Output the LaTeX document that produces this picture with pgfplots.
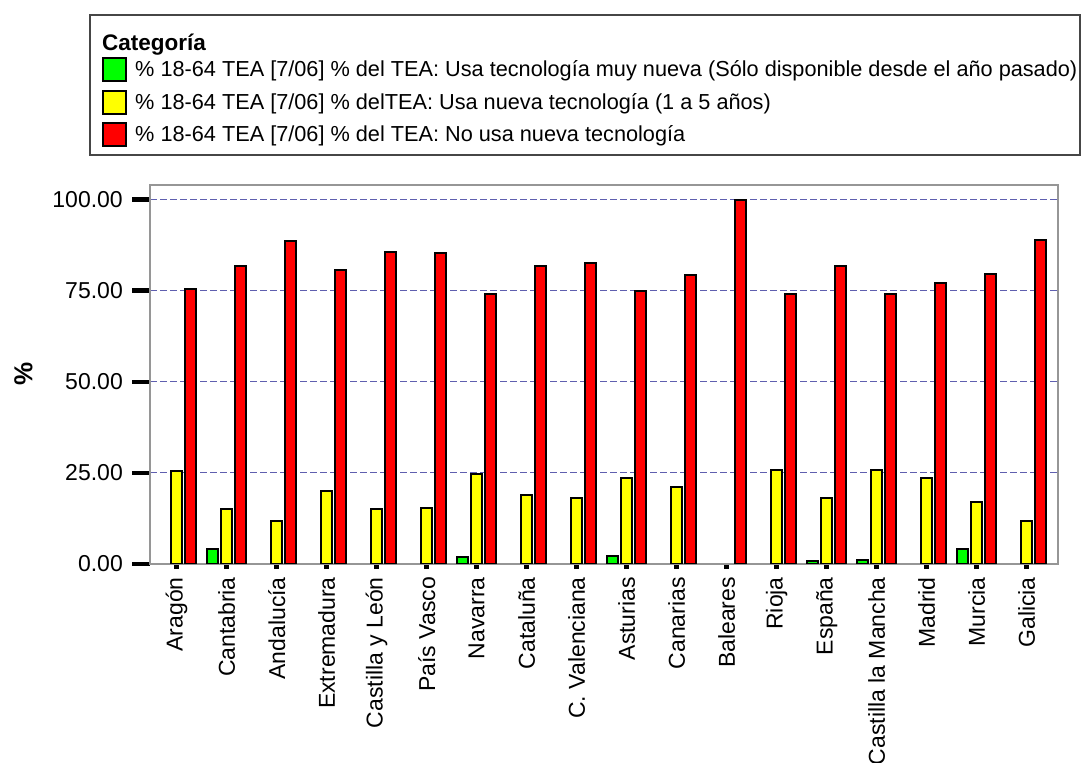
\documentclass[border=0pt]{standalone}
\usepackage{pgfplots}
\pgfplotsset{compat=1.18}
\usepackage{fontspec}
\setmainfont{Liberation Sans}
\definecolor{bgreen}{RGB}{0,255,0}
\definecolor{byellow}{RGB}{255,255,0}
\definecolor{bred}{RGB}{255,0,0}
\definecolor{gridblue}{RGB}{95,95,175}
\definecolor{framegray}{RGB}{150,150,150}
\definecolor{boxgray}{RGB}{70,70,70}
\begin{document}
\begin{tikzpicture}[x=1pt,y=1pt]
\useasboundingbox (0pt,0pt) rectangle (1082pt,763pt);
% legend box
\draw[boxgray, line width=1.8pt] (90pt,608pt) rectangle (1080pt,748pt);
\node[anchor=base west, inner sep=0pt] at (102pt,712.3pt) {\fontsize{22.5}{26}\selectfont\bfseries Categoría};
\draw[black, line width=1.8pt, fill=bgreen] (103pt,682pt) rectangle (126pt,705pt);
\draw[black, line width=1.8pt, fill=byellow] (103pt,649pt) rectangle (126pt,672pt);
\draw[black, line width=1.8pt, fill=bred] (103pt,617pt) rectangle (126pt,640pt);
\node[anchor=base west, inner sep=0pt] at (135pt,686.3pt) {\fontsize{21.7}{25}\selectfont \% 18-64 TEA [7/06] \% del TEA: Usa tecnología muy nueva (Sólo disponible desde el año pasado)};
\node[anchor=base west, inner sep=0pt] at (135pt,653.7pt) {\fontsize{21.7}{25}\selectfont \% 18-64 TEA [7/06] \% delTEA: Usa nueva tecnología (1 a 5 años)};
\node[anchor=base west, inner sep=0pt] at (135pt,621pt) {\fontsize{21.7}{25}\selectfont \% 18-64 TEA [7/06] \% del TEA: No usa nueva tecnología};
\begin{axis}[
  at={(150pt,199pt)}, anchor=south west,
  scale only axis, width=908pt, height=379pt,
  xmin=-0.533, xmax=17.627, ymin=0, ymax=104,
  ybar,
  xtick={0,...,17},
  minor xtick={0,...,17},
  xticklabels={Aragón,Cantabria,Andalucía,Extremadura,Castilla y León,País Vasco,Navarra,Cataluña,C. Valenciana,Asturias,Canarias,Baleares,Rioja,España,Castilla la Mancha,Madrid,Murcia,Galicia},
  ytick={0,25,50,75,100},
  /pgf/number format/fixed,
  /pgf/number format/fixed zerofill,
  /pgf/number format/precision=2,
  /pgf/number format/assume math mode=true,
  tick label style={font=\fontsize{23}{27}\selectfont},
  xticklabel style={rotate=90, anchor=east, inner sep=0pt, xshift=5pt},
  yticklabel style={anchor=east, inner sep=0pt, xshift=-9pt},
  tick align=outside,
  xtick pos=bottom, ytick pos=left,
  major tick length=18pt,
  minor tick length=5pt,
  major x tick style={draw=none},
  minor x tick style={black, line width=4.5pt},
  every y tick/.style={black, line width=4.5pt},
  axis line style={framegray, line width=1.5pt},
  ymajorgrids,
  grid style={gridblue, line width=1.2pt, dash pattern=on 7pt off 3pt},
  ylabel={\bfseries\%},
  every axis y label/.style={at={(-0.1393,0.501)}, rotate=90, anchor=center, font=\fontsize{26}{30}\selectfont},
]
\addplot[fill=bgreen, draw=black, line width=2pt, bar width=0.21, bar shift=-0.28] coordinates {
(1,4.0) (6,1.8) (9,2.3) (13,0.8) (14,1.2) (16,4.0)};
\addplot[fill=byellow, draw=black, line width=2pt, bar width=0.21, bar shift=0] coordinates {
(0,25.4) (1,15.0) (2,11.7) (3,19.9) (4,15.0) (5,15.5) (6,24.8) (7,18.8) (8,18.2) (9,23.7) (10,21.0) (12,25.9) (13,18.2) (14,25.9) (15,23.7) (16,17.1) (17,11.7)};
\addplot[fill=bred, draw=black, line width=2pt, bar width=0.21, bar shift=0.28] coordinates {
(0,75.4) (1,81.9) (2,88.5) (3,80.8) (4,85.7) (5,85.3) (6,74.2) (7,81.9) (8,82.5) (9,74.8) (10,79.2) (11,100) (12,74.2) (13,81.9) (14,74.2) (15,77.0) (16,79.7) (17,89.0)};
\end{axis}
\end{tikzpicture}
\end{document}
